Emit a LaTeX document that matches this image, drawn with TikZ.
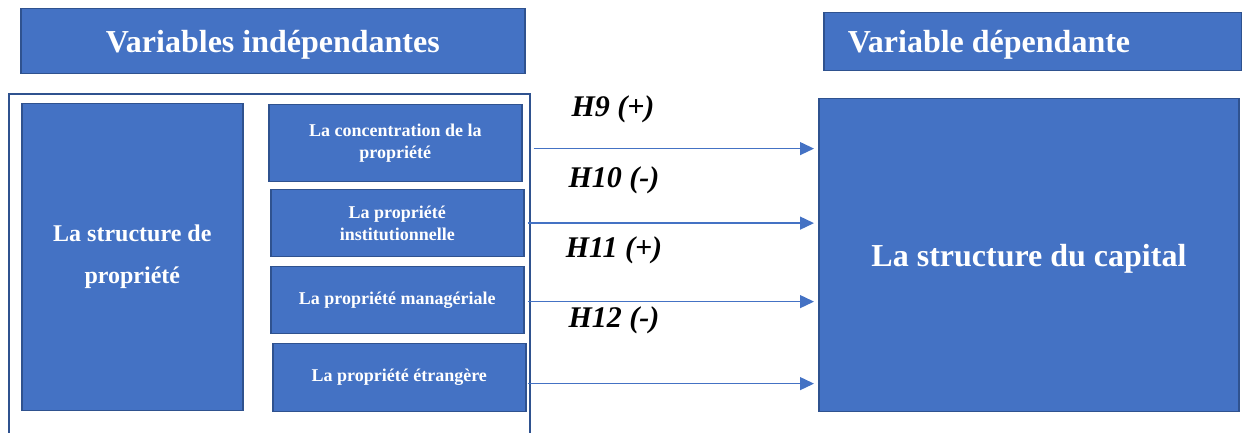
\documentclass[tikz,border=0pt]{standalone}
\usepackage{fontspec}
\setmainfont{Liberation Serif}
\usetikzlibrary{arrows.meta}
\definecolor{boxfill}{HTML}{4472C4}
\definecolor{boxline}{HTML}{2F528F}

\begin{document}
\begin{tikzpicture}[x=1bp,y=-1bp,
  box/.style={draw=boxline, line width=1.5bp, fill=boxfill, text=white,
    inner sep=0pt, align=center, anchor=north west},
  headfont/.style={font=\fontsize{32bp}{36bp}\selectfont\bfseries},
  itemfont/.style={font=\fontsize{18bp}{22bp}\selectfont\bfseries},
  hyp/.style={font=\fontsize{30bp}{34bp}\selectfont\bfseries\itshape,
    inner sep=0pt, anchor=base},
  arr/.style={draw=boxfill, line width=1.3bp,
    -{Triangle[length=14bp,width=13bp]}, shorten >=4bp},
  frame/.style={draw=boxline, line width=1.8bp}
]
\useasboundingbox (0,0) rectangle (1242,433);

% headers
\node[box, headfont, text depth=0pt, minimum width=506, minimum height=65]
  (hl) at (20,8) {Variables indépendantes};
\node[box, headfont, text depth=0pt, minimum height=58, inner xsep=24bp,
  text width=370bp, align=flush left] (hr) at (823,12) {Variable dépendante};

% frame around the independent variables
\draw[frame] (9,445) -- (9,94) -- (530,94) -- (530,445);

% ownership structure
\node[box, font=\fontsize{24bp}{42bp}\selectfont\bfseries,
  minimum width=222, minimum height=308] (own) at (21,103)
  {La structure de\\propriété};

% ownership dimensions
\node[box, itemfont, minimum width=254, minimum height=77] (b1) at (268,104)
  {La concentration de la\\propriété};
\node[box, itemfont, minimum width=254, minimum height=67] (b2) at (270,189)
  {La propriété\\institutionnelle};
\node[box, itemfont, minimum width=254, minimum height=67] (b3) at (270,266)
  {La propriété managériale};
\node[box, itemfont, minimum width=254, minimum height=68] (b4) at (272,343)
  {La propriété étrangère};

% dependent variable
\node[box, font=\fontsize{32bp}{38bp}\selectfont\bfseries, text depth=0pt,
  minimum width=422, minimum height=314] (cap) at (818,98)
  {La structure du capital};

% hypotheses
\coordinate (a1) at ([shift={(11,5.5)}]b1.east);
\coordinate (a2) at ([shift={(3,0)}]b2.east);
\coordinate (a3) at ([shift={(3,1.5)}]b3.east);
\coordinate (a4) at ([shift={(1,6)}]b4.east);
\draw[arr] (a1) -- (a1 -| cap.west);
\draw[arr] (a2) -- (a2 -| cap.west);
\draw[arr] (a3) -- (a3 -| cap.west);
\draw[arr] (a4) -- (a4 -| cap.west);

\node[hyp] (h9) at (613,117) {H9 (+)};
\node[hyp] (h10) at (614,188) {H10 (-)};
\node[hyp] (h11) at (614,258) {H11 (+)};
\node[hyp] (h12) at (614,328) {H12 (-)};
\end{tikzpicture}
\end{document}
